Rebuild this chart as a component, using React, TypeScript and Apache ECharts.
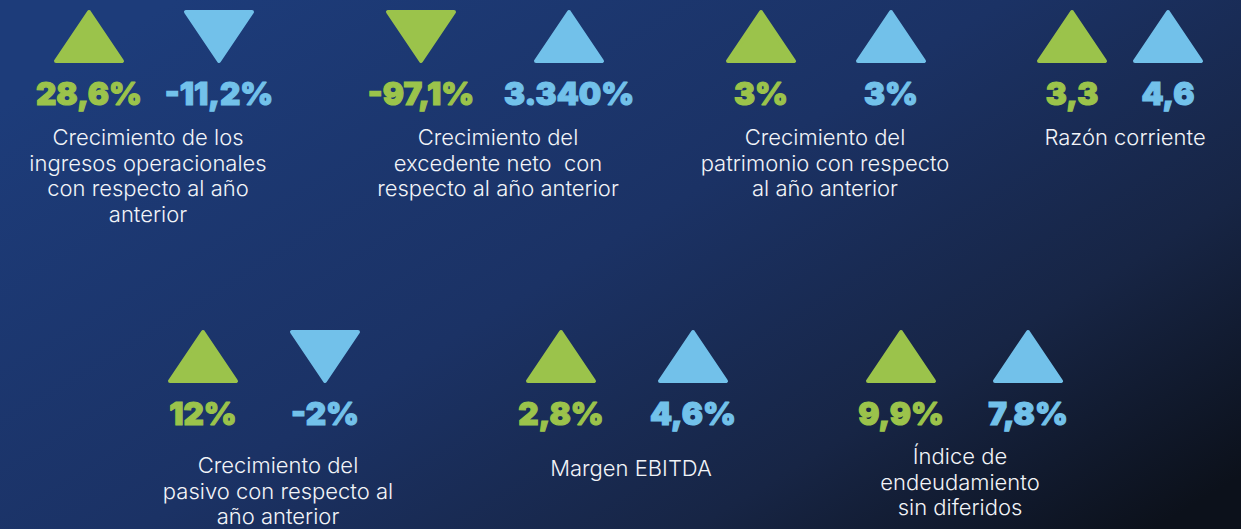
import React, { useEffect, useRef } from "react";
import * as echarts from "echarts";

// ---- data ----
const kpiTitles: string[][] = [
  ["Crecimiento de los", "ingresos operacionales", "con respecto al año", "anterior"],
  ["Crecimiento del", "excedente neto  con", "respecto al año anterior"],
  ["Crecimiento del", "patrimonio con respecto", "al año anterior"],
  ["Razón corriente"],
  ["Crecimiento del", "pasivo con respecto al", "año anterior"],
  ["Margen EBITDA"],
  ["Índice de", "endeudamiento", "sin diferidos"],
];
const greenValues = ["28,6%", "-97,1%", "3%", "3,3", "12%", "2,8%", "9,9%"];
const blueValues = ["-11,2%", "3.340%", "3%", "4,6", "-2%", "4,6%", "7,8%"];
const greenDir = ["up", "down", "up", "up", "up", "up", "up"];
const blueDir = ["down", "up", "up", "up", "down", "up", "up"];

// ---- layout (positions only) ----
const layout = [
  { g: 89, b: 219, label: 148, row: 0, labelY: 137 },
  { g: 421, b: 569, label: 498, row: 0, labelY: 137 },
  { g: 761, b: 891, label: 825, row: 0, labelY: 137 },
  { g: 1072, b: 1168, label: 1125, row: 0, labelY: 137 },
  { g: 203, b: 325, label: 278, row: 1, labelY: 465 },
  { g: 561, b: 693, label: 631, row: 1, labelY: 468 },
  { g: 901, b: 1028, label: 960, row: 1, labelY: 456 },
];
const rowTriTop = [10, 330];
const rowValueY = [93, 413];

const GREEN = "#9bc34b";
const BLUE = "#72c1ea";

function triangle(cx: number, top: number, dir: string, color: string) {
  const hw = 33;
  const h = 49;
  const t = top + 2;
  const pts =
    dir === "up"
      ? [[cx - hw, t + h], [cx, t], [cx + hw, t + h]]
      : [[cx - hw, t], [cx + hw, t], [cx, t + h]];
  return {
    type: "polygon",
    shape: { points: pts },
    style: { fill: color, stroke: color, lineWidth: 4, lineJoin: "round" },
  };
}

function valueText(cx: number, y: number, text: string, color: string) {
  return {
    type: "text",
    x: cx,
    y: y,
    style: {
      text,
      fill: color,
      stroke: color,
      lineWidth: 1.2,
      fontFamily: "Inter",
      fontWeight: 900,
      fontSize: 31.5,
      align: "center",
      verticalAlign: "middle",
    },
  };
}

export default function App() {
  const ref = useRef<HTMLDivElement>(null);
  useEffect(() => {
    document.body.style.margin = "0";
    const chart = echarts.init(ref.current!, undefined, { renderer: "svg" });
    const elements: any[] = [
      {
        type: "rect",
        shape: { x: 0, y: 0, width: 1241, height: 529 },
        z: -10,
        style: {
          fill: new echarts.graphic.LinearGradient(0, 0.2, 1, 0.9, [
            { offset: 0, color: "#1d3c7a" },
            { offset: 0.45, color: "#1b3265" },
            { offset: 0.75, color: "#172545" },
            { offset: 1, color: "#0c111b" },
          ]),
        },
      },
    ];
    layout.forEach((l, i) => {
      const top = rowTriTop[l.row];
      const vy = rowValueY[l.row];
      elements.push(triangle(l.g, top, greenDir[i], GREEN));
      elements.push(triangle(l.b, top, blueDir[i], BLUE));
      elements.push(valueText(l.g, vy, greenValues[i], GREEN));
      elements.push(valueText(l.b, vy, blueValues[i], BLUE));
      elements.push({
        type: "text",
        x: l.label,
        y: l.labelY - 12.75,
        style: {
          text: kpiTitles[i].join("\n"),
          fill: "#f2f4f8",
          fontFamily: "Inter",
          fontWeight: 300,
          fontSize: 22,
          lineHeight: 25.5,
          align: "center",
          verticalAlign: "top",
        },
      });
    });
    chart.setOption({
      animation: false,
      graphic: { elements },
    });
    return () => chart.dispose();
  }, []);
  return <div ref={ref} style={{ width: 1241, height: 529 }} />;
}
